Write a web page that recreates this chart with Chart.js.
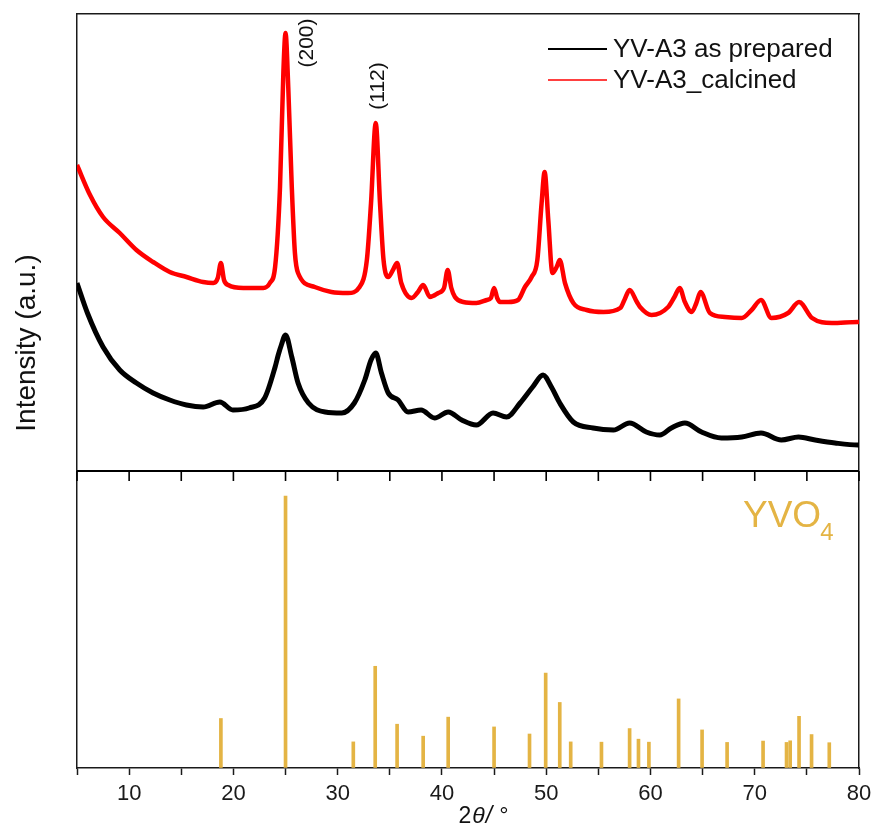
<!DOCTYPE html>
<html><head><meta charset="utf-8">
<script src="https://cdn.jsdelivr.net/npm/chart.js@4.4.1/dist/chart.umd.min.js"></script>
<style>
html,body{margin:0;padding:0;background:#fff;}
#wrap{position:relative;width:875px;height:827px;overflow:hidden;background:#fff;}
#c1,#c2{position:absolute;left:0;}
#c1{top:0;}
#c2{top:470px;}
</style></head><body>
<div id="wrap">
<canvas id="c1" width="875" height="470"></canvas>
<canvas id="c2" width="875" height="357"></canvas>
</div>
<script>
// ---- data ----
const preparedTheta = [5.0,6.0,7.5,9.1,10.7,12.3,13.9,15.5,17.1,18.7,19.95,21.5,23.0,24.0,24.3,24.6,25.0,25.6,26.2,27.2,28.8,30.4,31.6,32.6,33.2,33.65,34.2,34.85,35.8,36.75,38.0,39.3,40.6,41.9,43.3,44.9,46.2,47.5,48.7,49.7,50.5,51.3,52.6,54.5,56.45,58.0,59.6,60.9,62.0,63.3,64.9,66.8,68.75,70.6,72.55,74.2,75.8,77.7,79.9,80];
const preparedIntensity = [187,157,123,100,87,77,70,65,63,68,60,62,72,103,115,125,135,113,87,67,58,57,67,90,110,117,97,77,70,58,60,52,58,50,45,57,53,67,83,95,83,67,48,42,40,47,38,35,42,47,38,32,33,37,30,33,30,27,25,25];

const calcinedTheta = [5.0,6.25,7.5,9.1,10.7,12.3,13.9,15.5,17.1,18.07,18.5,18.8,19.1,19.5,20.95,22.87,23.5,24.0,24.47,24.8,25.0,25.26,25.6,25.9,26.2,27.8,29.4,31.0,32.1,32.8,33.2,33.65,34.06,34.4,34.85,35.3,35.7,36.1,37.1,37.7,38.2,38.85,39.65,40.2,40.55,40.9,41.25,42.05,43.3,44.3,44.7,45.0,45.3,45.57,46.36,47.3,47.96,48.6,49.15,49.56,49.85,50.2,50.6,51.0,51.3,51.8,52.6,53.88,55.5,57.1,57.5,58.0,58.7,59.0,60.1,61.7,62.3,62.8,63.3,63.95,64.4,64.8,65.7,67.15,68.75,69.7,70.6,71.6,73.2,74.25,75.5,77.4,79.9,80];
const calcinedIntensity = [305,275,253,237,220,208,198,193,188,187,192,207,190,185,182,182,187,203,283,400,437,383,283,217,197,183,178,177,183,210,267,347,267,210,193,200,207,187,172,178,185,173,177,182,200,182,173,168,167,170,172,182,172,168,168,170,183,193,210,267,298,250,197,203,210,187,167,160,158,162,170,180,168,163,155,163,173,182,168,158,167,178,157,153,152,160,170,152,157,168,152,147,148,148];

const stickTheta = [18.8,25.0,31.5,33.6,35.7,38.2,40.6,45.0,48.4,49.95,51.3,52.35,55.3,58.0,58.85,59.85,62.7,64.95,67.35,70.8,73.05,73.4,74.25,75.45,77.15];
const stickIntensity = [18.2,100,9.6,37.4,16.1,11.7,18.7,15.1,12.5,34.9,24.1,9.6,9.5,14.5,10.6,9.5,25.4,14.0,9.4,9.9,9.4,10.0,19.0,12.3,9.3];

const seriesLabels = ['YV-A3 as prepared', 'YV-A3_calcined'];
const peakLabels = ['(200)', '(112)'];
const peakLabelTheta = [27.05, 33.85];
const peakLabelValue = [427, 384];
const xTickValues = [10,20,30,40,50,60,70,80];

// ---- styles ----
const FONT = '"Liberation Sans", Arial, sans-serif';
const AXIS = '#1a1a1a';
const GOLD = '#E4B444';

function pts(xs, ys){ return xs.map((x,i)=>({x:x, y:ys[i]})); }

const topDecor = {
  id:'topDecor',
  afterDraw(chart){
    const ctx = chart.ctx;
    const xs = chart.scales.x, ys = chart.scales.y;
    ctx.save();
    const rows = [49, 80];
    chart.data.datasets.forEach((ds,i)=>{
      ctx.strokeStyle = ds.borderColor;
      ctx.lineWidth = i===0 ? 2 : 1.5;
      ctx.beginPath(); ctx.moveTo(548, rows[i]); ctx.lineTo(607, rows[i]); ctx.stroke();
      ctx.fillStyle = '#111';
      ctx.font = '26px ' + FONT;
      ctx.textAlign = 'left'; ctx.textBaseline = 'middle';
      ctx.fillText(ds.label, 613, rows[i]+1);
    });
    ctx.font = '21px ' + FONT;
    ctx.fillStyle = '#111';
    peakLabels.forEach((t,i)=>{
      const px = xs.getPixelForValue(peakLabelTheta[i]);
      const py = ys.getPixelForValue(peakLabelValue[i]);
      ctx.save(); ctx.translate(px, py); ctx.rotate(-Math.PI/2);
      ctx.textAlign='center'; ctx.textBaseline='middle';
      ctx.fillText(t, 0, 0); ctx.restore();
    });
    ctx.save(); ctx.translate(27, 343); ctx.rotate(-Math.PI/2);
    ctx.font = '28px ' + FONT; ctx.textAlign='center'; ctx.textBaseline='middle';
    ctx.fillStyle='#111';
    ctx.fillText('Intensity (a.u.)', 0, 0); ctx.restore();
    ctx.restore();
  }
};

const bottomDecor = {
  id:'bottomDecor',
  afterDraw(chart){
    const ctx = chart.ctx;
    const xs = chart.scales.x;
    const area = chart.chartArea;
    ctx.save();
    ctx.setLineDash([]);
    ctx.globalAlpha = 1;
    // divider line and inward ticks, at the x scale's own tick values
    ctx.fillStyle = '#000';
    ctx.fillRect(area.left, area.top - 1, area.right - area.left, 2);
    xs.ticks.forEach(t=>{
      const px = xs.getPixelForValue(t.value);
      ctx.fillRect(px - 0.8, area.top, 1.6, 10);
    });
    ctx.fillStyle = GOLD;
    ctx.font = '37px ' + FONT; ctx.textAlign='left'; ctx.textBaseline='alphabetic';
    ctx.fillText('YVO', 743, 57);
    const w = ctx.measureText('YVO').width;
    ctx.font = '24px ' + FONT;
    ctx.fillText('4', 743 + w - 1, 70);
    ctx.fillStyle = '#111';
    const y = 353;
    const p1 = '2', p2 = '\u03B8', p3 = '/ \u00B0';
    ctx.font = '23px ' + FONT; const w1 = ctx.measureText(p1).width;
    ctx.font = 'italic 23px ' + FONT; const w2 = ctx.measureText(p2).width;
    const w3 = ctx.measureText(p3).width;
    let x = 483 - (w1+w2+w3+2)/2;
    ctx.font = '23px ' + FONT; ctx.fillText(p1, x, y); x += w1 + 1;
    ctx.font = 'italic 23px ' + FONT; ctx.fillText(p2, x, y); x += w2 + 1;
    ctx.fillText(p3, x, y);
    ctx.restore();
  }
};

const borderOnly = (pos, fitSize) => ({
  type:'linear', position:pos, display:true,
  ticks:{display:false},
  grid:{display:true, drawOnChartArea:false, drawTicks:false},
  border:{display:true, color:AXIS, width:1.5},
  afterFit(s){ if (pos==='top'||pos==='bottom') s.height = fitSize; else s.width = fitSize; }
});

new Chart(document.getElementById('c1'), {
  type:'line',
  data:{ datasets:[
    {label:seriesLabels[0], data:pts(preparedTheta, preparedIntensity), borderColor:'#000000', borderWidth:5, pointRadius:0, cubicInterpolationMode:'monotone'},
    {label:seriesLabels[1], data:pts(calcinedTheta, calcinedIntensity), borderColor:'#FF0000', borderWidth:4.5, pointRadius:0, cubicInterpolationMode:'monotone'}
  ]},
  options:{
    responsive:false, animation:false, devicePixelRatio:1,
    layout:{padding:{left:0, right:16, top:14, bottom:0}},
    plugins:{legend:{display:false}, tooltip:{enabled:false}},
    scales:{
      x:{type:'linear', position:'bottom', min:5, max:80,
         ticks:{display:false, stepSize:5},
         grid:{display:true, drawOnChartArea:false, drawTicks:false},
         border:{display:false},
         afterFit(s){ s.height = 0; }},
      y:{type:'linear', position:'left', min:0, max:456,
         ticks:{display:false},
         grid:{display:true, drawOnChartArea:false, drawTicks:false},
         border:{display:true, color:AXIS, width:1.5},
         afterFit(s){ s.width = 77; }},
      xTop: borderOnly('top', 0),
      yRight: borderOnly('right', 0)
    }
  },
  plugins:[topDecor]
});

new Chart(document.getElementById('c2'), {
  type:'bar',
  data:{ datasets:[
    {label:'YVO4', data:pts(stickTheta, stickIntensity), backgroundColor:GOLD, barThickness:3, borderWidth:0}
  ]},
  options:{
    responsive:false, animation:false, devicePixelRatio:1,
    layout:{padding:{left:0, right:16, top:1, bottom:0}},
    plugins:{legend:{display:false}, tooltip:{enabled:false}},
    scales:{
      x:{type:'linear', position:'bottom', min:5, max:80, offset:false,
         ticks:{display:true, stepSize:5, autoSkip:false, maxRotation:0, padding:6,
                font:{family:FONT, size:22}, color:'#1a1a1a',
                callback:(v)=> xTickValues.includes(v) ? String(v) : ''},
         grid:{display:true, drawOnChartArea:false, drawTicks:true, tickLength:7, tickColor:AXIS, tickWidth:1.5, offset:false},
         border:{display:true, color:AXIS, width:1.5},
         afterFit(s){ s.height = 59; s.paddingLeft = 0; s.paddingRight = 0; }},
      y:{type:'linear', position:'left', min:0, max:109.2,
         ticks:{display:false},
         grid:{display:true, drawOnChartArea:false, drawTicks:false},
         border:{display:true, color:AXIS, width:1.5},
         afterFit(s){ s.width = 77; }},
      yRight: borderOnly('right', 0)
    }
  },
  plugins:[bottomDecor]
});
</script>
</body></html>
